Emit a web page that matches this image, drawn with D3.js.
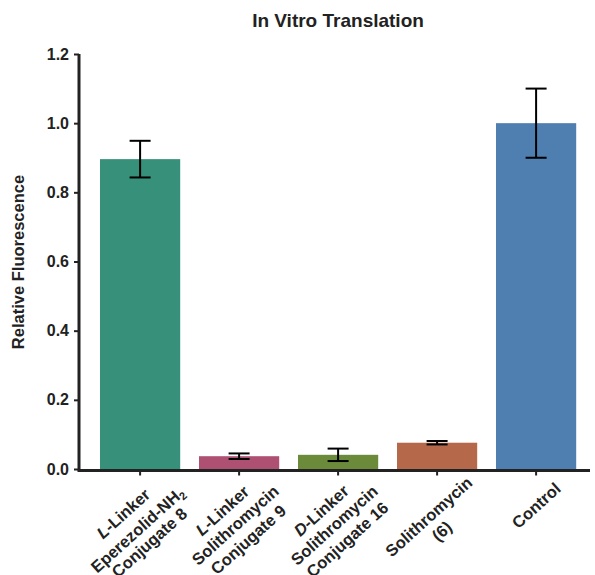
<!DOCTYPE html>
<html>
<head>
<meta charset="utf-8">
<script src="https://cdn.jsdelivr.net/npm/d3@7"></script>
<style>
  body { margin: 0; background: #fff; }
  text { font-family: "Liberation Sans", Arial, sans-serif; font-weight: bold; fill: #222; }
</style>
</head>
<body>
<div id="chart"></div>
<script>
// categories: each label is a list of lines, each line a list of [text, style] pieces
const categories = ["c8", "c9", "c16", "soli", "control"];
const labelLines = [
    [[["L", "i"], ["-Linker", ""]], [["Eperezolid-NH", ""], ["2", "sub"]], [["Conjugate 8", ""]]],
    [[["L", "i"], ["-Linker", ""]], [["Solithromycin", ""]], [["Conjugate 9", ""]]],
    [[["D", "i"], ["-Linker", ""]], [["Solithromycin", ""]], [["Conjugate 16", ""]]],
    [[["Solithromycin", ""]], [["(6)", ""]]],
    [[["Control", ""]]]
];
const values = [0.896, 0.037, 0.041, 0.076, 1.0];
const errors = [0.053, 0.008, 0.018, 0.005, 0.1];
const colors = ["#36907a", "#ad5071", "#6b8a3a", "#b5684a", "#4f7eb0"];
const yTicks = [0, 0.2, 0.4, 0.6, 0.8, 1.0, 1.2];

const width = 595, height = 575;
const axisColor = "#222";

const svg = d3.select("#chart")
    .append("svg")
    .attr("width", width)
    .attr("height", height);

const x = d3.scaleBand()
    .domain(categories)
    .range([90.6, 585.6])
    .paddingInner(0.19)
    .paddingOuter(0.095);

const y = d3.scaleLinear()
    .domain([0, 1.2])
    .range([469, 54]);

// title
svg.append("text")
    .attr("x", 338)
    .attr("y", 27)
    .attr("text-anchor", "middle")
    .style("font-size", "19px")
    .text("In Vitro Translation");

// bars
svg.selectAll(".bar")
    .data(values)
    .enter().append("rect")
    .attr("class", "bar")
    .attr("x", (d, i) => x(categories[i]))
    .attr("y", d => y(d))
    .attr("width", x.bandwidth())
    .attr("height", d => y(0) - y(d))
    .attr("fill", (d, i) => colors[i]);

// error bars
const err = svg.selectAll(".err")
    .data(values)
    .enter().append("g")
    .attr("class", "err")
    .attr("stroke", "#000")
    .attr("stroke-width", 2);

const cx = i => x(categories[i]) + x.bandwidth() / 2;

err.append("line")
    .attr("x1", (d, i) => cx(i)).attr("x2", (d, i) => cx(i))
    .attr("y1", (d, i) => y(d + errors[i]))
    .attr("y2", (d, i) => y(d - errors[i]));
err.append("line")
    .attr("x1", (d, i) => cx(i) - 10.5).attr("x2", (d, i) => cx(i) + 10.5)
    .attr("y1", (d, i) => y(d + errors[i]))
    .attr("y2", (d, i) => y(d + errors[i]));
err.append("line")
    .attr("x1", (d, i) => cx(i) - 10.5).attr("x2", (d, i) => cx(i) + 10.5)
    .attr("y1", (d, i) => y(d - errors[i]))
    .attr("y2", (d, i) => y(d - errors[i]));

// y axis
const yAxis = svg.append("g")
    .attr("transform", "translate(79,0)")
    .call(d3.axisLeft(y).tickValues(yTicks).tickFormat(d3.format(".1f")).tickSize(5).tickPadding(5));
yAxis.select(".domain").attr("stroke", axisColor).attr("stroke-width", 3)
    .attr("d", `M0,${y(1.2)}V${y(0) + 1.5}`);
yAxis.selectAll(".tick line").attr("stroke", axisColor).attr("stroke-width", 2);
yAxis.selectAll(".tick text").style("font-size", "16px").attr("fill", "#222");

// x axis
const xAxis = svg.append("g")
    .attr("transform", `translate(0,${y(0) + 1.5})`)
    .call(d3.axisBottom(x).tickSize(5).tickFormat(""));
xAxis.select(".domain").attr("stroke", axisColor).attr("stroke-width", 3)
    .attr("d", "M77.5,0H590");
xAxis.selectAll(".tick line").attr("stroke", axisColor).attr("stroke-width", 2);

// rotated multi-line category labels, centred under each tick
const lineH = 19.5;
categories.forEach((c, i) => {
    const outer = svg.append("g");
    const inner = outer.append("g").attr("transform", "rotate(-42)");
    const lines = labelLines[i];
    let yy = 0;
    lines.forEach((ln, j) => {
        // a line holding a subscript sits a bit lower
        const hasSub = ln.some(p => p[1] === "sub");
        if (j > 0) yy += lineH + (hasSub ? 2 : 0);
        const t = inner.append("text")
            .attr("x", 0)
            .attr("y", yy)
            .attr("text-anchor", "middle")
            .style("font-size", "16.5px");
        ln.forEach(p => {
            const ts = t.append("tspan").text(p[0]);
            if (p[1] === "i") ts.style("font-style", "italic");
            if (p[1] === "sub") ts.attr("dy", "0.3em").style("font-size", "11px");
        });
        if (hasSub) yy -= 2;
    });
    const bb = outer.node().getBBox();
    const tx = cx(i) - (bb.x + bb.width / 2) - 2 * (lines.length - 1);
    const ty = 479 - bb.y - 6 * (lines.length - 1);
    outer.attr("transform", `translate(${tx},${ty})`);
});

// y axis title
svg.append("text")
    .attr("transform", "translate(24,262) rotate(-90)")
    .attr("text-anchor", "middle")
    .style("font-size", "16.5px")
    .text("Relative Fluorescence");
</script>
</body>
</html>
